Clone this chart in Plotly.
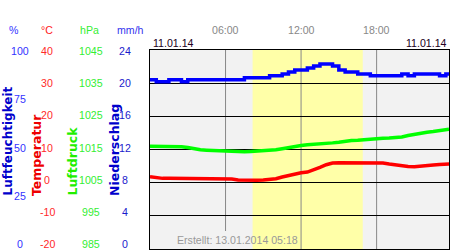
import plotly.graph_objects as go

# ---------------- data ----------------
hours = [0, 0.5, 1, 1.5, 2, 2.5, 3, 3.5, 4, 4.5, 5, 5.5, 6, 6.5, 7, 7.5, 8, 8.5, 9, 9.5,
         10, 10.5, 11, 11.5, 12, 12.5, 13, 13.5, 14, 14.5, 15, 15.5, 16, 16.5, 17, 17.5,
         18, 18.5, 19, 19.5, 20, 20.5, 21, 21.5, 22, 22.5, 23, 23.5, 23.75]

humidity = [85, 84, 84, 85, 85, 84, 85, 85, 85, 85, 85, 85, 85, 85, 85, 86, 86, 86, 86, 87,
            87, 88, 89, 90, 90, 91, 92, 93, 93, 92, 90, 89, 89, 88, 88, 87,
            87, 87, 87, 87, 88, 87, 88, 88, 88, 88, 87, 88, 88]

temperature = [1.8, 1.5, 1.3, 1.3, 1.3, 1.3, 1.3, 1.3, 1.3, 1.3, 1.3, 1.3, 1.3, 1.1, 0.8, 0.7, 0.7, 0.7, 0.8, 1.0,
               1.2, 1.7, 2.2, 2.7, 3.0, 3.2, 3.8, 4.6, 5.4, 5.9, 6.0, 6.0, 6.0, 6.0, 6.0, 6.0,
               6.0, 5.9, 5.6, 5.3, 5.1, 4.9, 4.8, 4.9, 5.1, 5.3, 5.5, 5.6, 5.6]

pressure = [1016.0, 1016.0, 1016.0, 1015.9, 1015.9, 1015.8, 1015.6, 1015.2, 1014.9, 1014.8,
            1014.7, 1014.6, 1014.5, 1014.4, 1014.3, 1014.3, 1014.4, 1014.5, 1014.6, 1014.7,
            1014.9, 1015.2, 1015.6, 1015.9, 1016.2, 1016.4, 1016.5, 1016.7, 1016.8, 1017.0,
            1017.2, 1017.5, 1017.7, 1017.8, 1018.0, 1018.2, 1018.3, 1018.4, 1018.5, 1018.6,
            1018.8, 1019.2, 1019.6, 1019.9, 1020.2, 1020.4, 1020.7, 1021.0, 1021.1]

hum_ticks = [0, 25, 50, 75, 100]
temp_ticks = [-20, -10, 0, 10, 20, 30, 40]
pres_ticks = [985, 995, 1005, 1015, 1025, 1035, 1045]
prec_ticks = [0, 4, 8, 12, 16, 20, 24]

time_ticks = [6, 12, 18]
time_labels = ["06:00", "12:00", "18:00"]
daylight = [8.15, 16.9]
x_range = [0, 23.75]
date_label = "11.01.14"
created_label = "Erstellt: 13.01.2014 05:18"

units = ["%", "°C", "hPa", "mm/h"]
titles = ["Luftfeuchtigkeit", "Temperatur", "Luftdruck", "Niederschlag"]

# ---------------- style ----------------
W, H = 450, 250
M_T, M_B = 50, 1
PH = H - M_T - M_B
FONT = "Liberation Sans, Arial, sans-serif"
FS = 10.6


def px_x(p):
    return p / W


def px_y(p):
    return (H - M_B - p) / PH


fig = go.Figure()

fig.add_trace(go.Scatter(x=hours, y=humidity, yaxis="y2", mode="lines",
                         line=dict(color="#0000ff", width=3.5, shape="hv"),
                         hoverinfo="skip", showlegend=False))
fig.add_trace(go.Scatter(x=hours, y=pressure, yaxis="y3", mode="lines",
                         line=dict(color="#00ff00", width=3.5),
                         hoverinfo="skip", showlegend=False))
fig.add_trace(go.Scatter(x=hours, y=temperature, yaxis="y", mode="lines",
                         line=dict(color="#ff0000", width=3.5),
                         hoverinfo="skip", showlegend=False))
# dummy traces for label axes
for ax in ["y5", "y6", "y7", "y8"]:
    fig.add_trace(go.Scatter(x=[None], y=[None], yaxis=ax, mode="lines",
                             hoverinfo="skip", showlegend=False))

label_domain = [5 / PH, (PH - 1) / PH]

fig.update_layout(
    width=W, height=H, autosize=False,
    margin=dict(l=0, r=0, t=M_T, b=M_B, pad=0),
    paper_bgcolor="white", plot_bgcolor="rgba(0,0,0,0)",
    font=dict(family=FONT, size=FS),
    xaxis=dict(domain=[150 / W, 449 / W], range=x_range, showgrid=False, zeroline=False,
               showticklabels=False, ticks="", showline=True, mirror=True,
               linecolor="black", linewidth=1, fixedrange=True),
    yaxis=dict(range=[-20, 40], tickvals=temp_ticks, showgrid=True, gridcolor="black",
               gridwidth=1, zeroline=False, showticklabels=False, ticks="",
               showline=True, mirror=True, linecolor="black", linewidth=1),
    yaxis2=dict(range=[0, 100], overlaying="y", visible=False),
    yaxis3=dict(range=[985, 1045], overlaying="y", visible=False),
    yaxis5=dict(range=[0, 100], domain=label_domain, anchor="x", visible=False),
    yaxis6=dict(range=[-20, 40], domain=label_domain, anchor="x", visible=False),
    yaxis7=dict(range=[985, 1045], domain=label_domain, anchor="x", visible=False),
    yaxis8=dict(range=[0, 24], domain=label_domain, anchor="x", visible=False),
)

shapes = [
    dict(type="rect", xref="x", yref="paper", x0=x_range[0], x1=x_range[1], y0=0, y1=1,
         fillcolor="#f2f2f2", line=dict(width=0), layer="below"),
    dict(type="rect", xref="x", yref="paper", x0=daylight[0], x1=daylight[1], y0=0, y1=1,
         fillcolor="#ffffa8", line=dict(width=0), layer="below"),
]
for t in time_ticks:
    y0 = px_y(231) if t == time_ticks[0] else 0
    shapes.append(dict(type="line", xref="x", yref="paper", x0=t, x1=t, y0=y0, y1=1,
                       line=dict(color="#888888", width=1), layer="below"))
fig.update_layout(shapes=shapes)

ann = []
# time labels on top
for t, lab in zip(time_ticks, time_labels):
    ann.append(dict(x=t, xref="x", y=px_y(29.5), yref="paper", text=lab, showarrow=False,
                    xanchor="center", yanchor="middle", font=dict(color="#888888", size=FS)))
# dates
ann.append(dict(x=x_range[0], xref="x", y=px_y(43.5), yref="paper", text=date_label,
                showarrow=False, xanchor="left", yanchor="middle", xshift=1,
                font=dict(color="#220022", size=FS)))
ann.append(dict(x=x_range[1], xref="x", y=px_y(43.5), yref="paper", text=date_label,
                showarrow=False, xanchor="right", yanchor="middle",
                font=dict(color="#220022", size=FS)))
# unit headers
unit_x = [14, 46.5, 89, 130.5]
unit_col = ["#3333ff", "#ff2222", "#33ee33", "#3333ee"]
for u, xx, c in zip(units, unit_x, unit_col):
    ann.append(dict(x=px_x(xx), xref="paper", y=px_y(29.5), yref="paper", text=u,
                    showarrow=False, xanchor="center", yanchor="middle",
                    font=dict(color=c, size=FS)))
# tick label columns
cols = [(hum_ticks, "y5", 20, "#3333ff"),
        (temp_ticks, "y6", 47, "#ff2a2a"),
        (pres_ticks, "y7", 91, "#33ee33"),
        (prec_ticks, "y8", 125, "#1a1acc")]
for ticks, yr, xx, c in cols:
    for v in ticks:
        ann.append(dict(x=px_x(xx), xref="paper", y=v, yref=yr, text=str(v),
                        showarrow=False, xanchor="center", yanchor="middle",
                        font=dict(color=c, size=FS)))
# rotated titles
title_x = [7, 36, 72, 114]
title_fs = [12, 12.5, 12.5, 12.5]
title_col = ["#0000cc", "#ee0000", "#22ee00", "#0000cc"]
for t, xx, fs, c in zip(titles, title_x, title_fs, title_col):
    ann.append(dict(x=px_x(xx), xref="paper", y=px_y(198), yref="paper", text="<b>" + t + "</b>",
                    textangle=-90, showarrow=False, xanchor="center", yanchor="bottom",
                    font=dict(color=c, size=fs, family="DejaVu Sans, sans-serif")))
# created
ann.append(dict(x=px_x(175), xref="paper", y=px_y(240), yref="paper", text=created_label,
                showarrow=False, xanchor="left", yanchor="middle",
                font=dict(color="#999999", size=FS)))
fig.update_layout(annotations=ann)

fig.write_html("out.html", config={"displayModeBar": False, "staticPlot": True})
